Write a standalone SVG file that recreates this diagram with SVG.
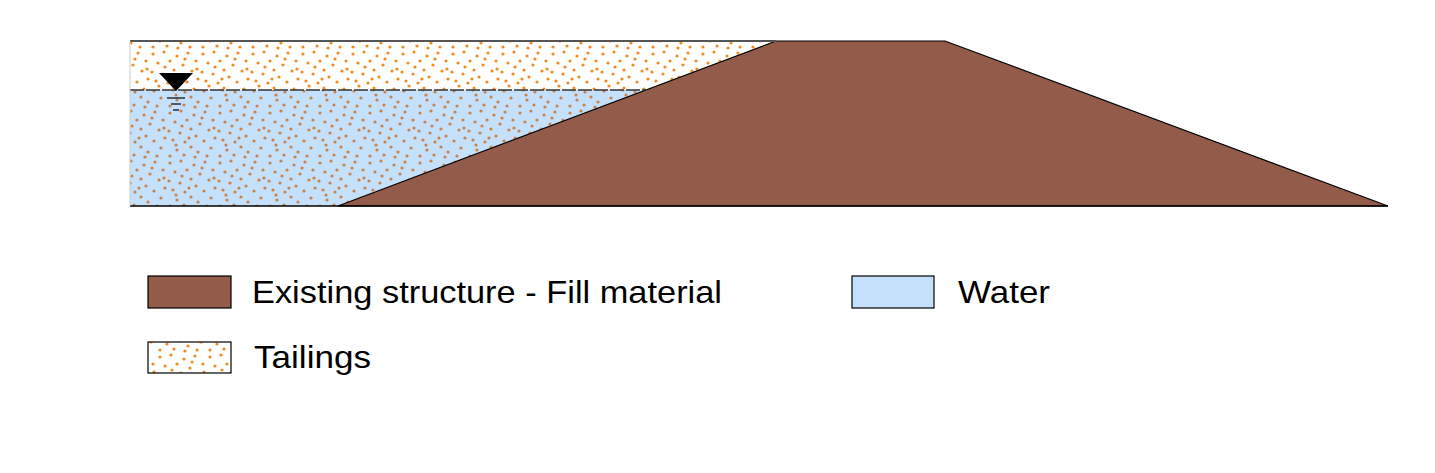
<svg xmlns="http://www.w3.org/2000/svg" width="1435" height="473" viewBox="0 0 1435 473">
<style>
.t{font-family:"Liberation Sans",Arial,sans-serif;font-size:32px;fill:#000}
.o{stroke:#000;stroke-width:1.2}
</style>
<defs>
<g id="dots">
<circle cx="3" cy="4" r="1.6"/><circle cx="14" cy="2" r="1.6"/><circle cx="27" cy="6" r="1.6"/><circle cx="38" cy="3" r="1.6"/><circle cx="46" cy="11" r="1.6"/>
<circle cx="8" cy="13" r="1.6"/><circle cx="20" cy="11" r="1.6"/><circle cx="33" cy="15" r="1.6"/><circle cx="42" cy="21" r="1.6"/><circle cx="2" cy="22" r="1.6"/>
<circle cx="13" cy="24" r="1.6"/><circle cx="24" cy="20" r="1.6"/><circle cx="29" cy="27" r="1.6"/><circle cx="48" cy="29" r="1.6"/><circle cx="6" cy="31" r="1.6"/>
<circle cx="18" cy="33" r="1.6"/><circle cx="37" cy="32" r="1.6"/><circle cx="44" cy="39" r="1.6"/><circle cx="10" cy="41" r="1.6"/><circle cx="24" cy="38" r="1.6"/>
<circle cx="31" cy="43" r="1.6"/><circle cx="3" cy="47" r="1.6"/><circle cx="17" cy="46" r="1.6"/><circle cx="40" cy="47" r="1.6"/><circle cx="22" cy="29" r="1.6"/>
<circle cx="35" cy="9" r="1.6"/><circle cx="9" cy="36" r="1.6"/><circle cx="47" cy="19" r="1.6"/><circle cx="28" cy="48" r="1.6"/><circle cx="15" cy="17" r="1.6"/>
</g>
<pattern id="pt" width="50" height="50" patternUnits="userSpaceOnUse"><g fill="#f28a22"><use href="#dots"/></g></pattern>
<pattern id="pw" width="50" height="50" patternUnits="userSpaceOnUse" patternTransform="translate(17,9)"><rect width="50" height="50" fill="#c5e0fb"/><g fill="#c8844c"><use href="#dots"/></g></pattern>
<pattern id="pl" width="50" height="50" patternUnits="userSpaceOnUse" patternTransform="translate(7,3)"><rect width="50" height="50" fill="#fff"/><g fill="#f28a22"><use href="#dots"/></g></pattern>
</defs>
<rect width="1435" height="473" fill="#fff"/>
<g id="tailings"><polygon points="130,41 776,41 646,90 130,90" fill="url(#pt)"/></g>
<g id="water"><polygon points="130,90 646,90 338,206 130,206" fill="url(#pw)"/></g>
<g id="dam"><polygon points="338,206 776,41 945,41 1388,206" fill="#935b4a" stroke="#000" stroke-width="1.2"/></g>
<g id="lines">
<line x1="130" y1="41" x2="776" y2="41" stroke="#555" stroke-width="2"/>
<line x1="130" y1="90" x2="646" y2="90" stroke="#333" stroke-width="1.5" stroke-dasharray="14,2"/>
<line x1="130" y1="206" x2="1388" y2="206" stroke="#000" stroke-width="1.5"/>
<line x1="130" y1="41" x2="130" y2="206" stroke="#ccc" stroke-width="1"/>
</g>
<g id="watersymbol">
<polygon points="159,73 193,73 176,91" fill="#000"/>
<line x1="167" y1="98" x2="185" y2="98" stroke="#000" stroke-width="1.2"/>
<line x1="171" y1="104" x2="181" y2="104" stroke="#000" stroke-width="1.2"/>
<line x1="173" y1="110" x2="179" y2="110" stroke="#000" stroke-width="1.2"/>
</g>
<g id="legend-fill"><rect x="148" y="276" width="83" height="32" fill="#935b4a" class="o"/><text x="252" y="303" class="t" textLength="470" lengthAdjust="spacingAndGlyphs">Existing structure - Fill material</text></g>
<g id="legend-water"><rect x="852" y="276" width="82" height="32" fill="#c5e0fb" class="o"/><text x="958" y="303" class="t" textLength="92" lengthAdjust="spacingAndGlyphs">Water</text></g>
<g id="legend-tailings"><rect x="148" y="342" width="83" height="31" fill="url(#pl)" class="o"/><text x="254" y="368" class="t" textLength="117" lengthAdjust="spacingAndGlyphs">Tailings</text></g>
</svg>
